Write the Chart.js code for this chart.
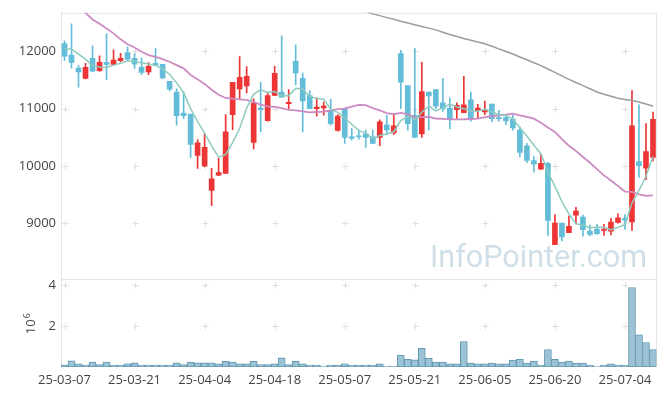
<!DOCTYPE html>
<html>
<head>
<meta charset="utf-8">
<script src="https://cdn.jsdelivr.net/npm/chart.js@4.4.1/dist/chart.umd.min.js"></script>
<style>
html,body{margin:0;padding:0;background:#fff;}
canvas{display:block;}
</style>
</head>
<body>
<canvas id="c" width="665" height="396"></canvas>
<script>
const dates = [
"25-03-07","25-03-10","25-03-11","25-03-12","25-03-13","25-03-14","25-03-17","25-03-18","25-03-19","25-03-20",
"25-03-21","25-03-24","25-03-25","25-03-26","25-03-27","25-03-28","25-03-31","25-04-01","25-04-02","25-04-03",
"25-04-04","25-04-07","25-04-08","25-04-09","25-04-10","25-04-11","25-04-14","25-04-15","25-04-16","25-04-17",
"25-04-18","25-04-21","25-04-22","25-04-23","25-04-24","25-04-25","25-04-28","25-04-29","25-04-30","25-05-02",
"25-05-07","25-05-08","25-05-09","25-05-12","25-05-13","25-05-14","25-05-15","25-05-16","25-05-19","25-05-20",
"25-05-21","25-05-22","25-05-23","25-05-26","25-05-27","25-05-28","25-05-29","25-05-30","25-06-02","25-06-04",
"25-06-05","25-06-09","25-06-10","25-06-11","25-06-12","25-06-13","25-06-16","25-06-17","25-06-18","25-06-19",
"25-06-20","25-06-23","25-06-24","25-06-25","25-06-26","25-06-27","25-06-30","25-07-01","25-07-02","25-07-03",
"25-07-04","25-07-07","25-07-08","25-07-09","25-07-10"];

const opens  = [12133,11931,11706,11528,11874,11661,11805,11770,11834,11978,11874,11718,11637,11787,11770,11476,11286,10923,10906,10186,
10002,9576,9840,9869,10894,11343,11395,10410,11010,10790,11229,11286,11084,11822,11528,11229,10998,11010,10970,10618,
10998,10509,10521,10561,10509,10497,10716,10578,11960,11402,10884,10561,11286,11333,11101,11010,10980,10929,11153,10963,
10941,11079,10842,10842,10815,10624,10353,10094,9944,10047,8630,9005,8838,9144,9109,8867,8902,8879,8867,9018,
9087,9028,10077,9961,10151];
const highs  = [12180,12479,11748,11787,12093,11921,12306,12024,11965,12076,11960,11886,11800,12047,11770,11476,11343,11298,10906,10462,
10555,9961,10134,10894,11459,11908,11730,11171,11459,11274,11736,12266,11333,12111,11620,11316,11188,11114,11160,10894,
11010,10652,10624,10624,10624,10803,10884,10884,12017,11402,12047,11805,11286,11333,11528,11188,11101,11563,11286,11074,
11131,11079,10970,10884,10884,10681,10393,10163,10203,10065,9156,9005,9126,9282,9144,8971,8983,8983,9087,9166,
9156,11316,11067,10739,10941];
const lows   = [11834,11706,11373,11516,11644,11649,11506,11758,11817,11827,11701,11592,11592,11748,11516,11309,10711,10825,10146,9956,
9985,9311,9830,9869,10635,11160,11274,10296,10600,10780,11229,11200,10998,11412,10595,10998,10872,10884,10711,10607,
10393,10452,10469,10324,10393,10353,10548,10548,10998,10624,10497,10497,10624,10998,10953,10652,10825,10929,10780,10837,
10894,10768,10780,10721,10624,10158,10059,9892,9944,8793,8630,8694,8838,8993,8776,8781,8810,8793,8798,9005,
8897,8879,9800,9760,10089];
const closes = [11914,11805,11637,11718,11654,11805,11770,11844,11874,11862,11775,11632,11736,11758,11533,11338,10877,10877,10376,10405,
10324,9778,9887,10595,11459,11546,11563,11096,10980,11229,11615,11200,11108,11620,11136,10998,11027,11044,10739,10872,
10497,10486,10509,10497,10393,10768,10630,10699,11459,10739,10497,11298,11222,11044,10998,10825,11056,11067,10825,11010,
10980,10825,10825,10785,10664,10237,10099,10030,10047,9052,9005,8763,8948,9213,8890,8810,8821,8902,9023,9097,
9057,10699,10008,10250,10815];
const volumes = [110000,300000,150000,100000,240000,120000,240000,100000,100000,150000,200000,100000,100000,100000,100000,100000,200000,120000,240000,200000,
200000,200000,150000,280000,240000,150000,150000,280000,120000,120000,150000,450000,120000,280000,150000,100000,100000,50000,100000,100000,
150000,100000,100000,100000,100000,150000,50000,50000,580000,380000,350000,910000,430000,240000,240000,150000,150000,1250000,190000,150000,
150000,190000,150000,150000,340000,380000,190000,290000,100000,860000,380000,240000,290000,190000,190000,100000,30000,100000,150000,100000,
100000,3900000,1580000,1200000,860000];
const ma5 = [12047,12035,11948,11862,11746,11724,11717,11758,11789,11831,11825,11797,11776,11753,11687,11599,11448,11277,11000,10775,
10572,10352,10154,10198,10409,10653,11010,11252,11329,11283,11297,11224,11226,11354,11336,11212,11178,11165,10989,10936,
10836,10728,10621,10572,10476,10531,10559,10597,10790,10859,10805,10938,11043,10960,11012,11077,11029,10998,10954,10957,
10988,10941,10893,10885,10816,10667,10522,10363,10215,9893,9647,9379,9163,8996,8964,8925,8936,8927,8889,8931,
8980,9356,9577,9822,10166];
const ma20 = [12980,12880,12778,12669,12553,12479,12397,12311,12207,12121,12064,11990,11931,11903,11862,11817,11758,11701,11585,11510,
11430,11329,11241,11185,11175,11162,11152,11115,11070,11038,11030,11009,10977,10970,10950,10933,10941,10949,10967,10991,
10999,11035,11066,11061,11008,10969,10922,10902,10926,10902,10846,10851,10857,10828,10821,10812,10814,10815,10819,10826,
10850,10867,10883,10897,10911,10884,10858,10824,10754,10669,10595,10468,10354,10263,10157,10057,9945,9837,9746,9651,
9555,9548,9508,9481,9488];
const ma60 = [null,null,null,null,null,null,null,null,null,null,null,null,null,null,null,null,null,null,null,null,
null,null,null,null,null,null,null,null,null,null,null,null,null,null,null,null,null,null,null,null,
null,null,12720,12690,12650,12620,12585,12555,12522,12493,12462,12432,12402,12372,12330,12290,12255,12220,12190,12160,
12130,12085,12040,11995,11950,11900,11850,11800,11748,11690,11630,11570,11510,11455,11400,11345,11290,11250,11215,11180,
11160,11140,11115,11080,11040];
const priceTicks = [9000,10000,11000,12000];
const volumeTicks = [2000000,4000000];
const labelEvery = 10;

const UP = '#ee3535', DOWN = '#63bdd8';
const candleColors = closes.map((c,i)=> c >= opens[i] ? UP : DOWN);
const FONT = "'Open Sans', 'Noto Sans', sans-serif";

const decor = {
  id: 'decor',
  beforeDatasetsDraw(chart) {
    const {ctx, chartArea: a, scales} = chart;
    const x = scales.x, y = scales.y, v = scales.v;
    ctx.save();
    ctx.font = "32px Roboto, 'Open Sans', sans-serif";
    ctx.fillStyle = '#cfdfe9';
    ctx.textAlign = 'left';
    ctx.textBaseline = 'alphabetic';
    ctx.fillText('InfoPointer.com', a.left + 369, y.bottom - 12, 217);
    ctx.strokeStyle = '#e4e4e4';
    ctx.lineWidth = 1;
    ctx.beginPath();
    ctx.moveTo(a.left, a.top + 0.5); ctx.lineTo(a.right, a.top + 0.5);
    ctx.moveTo(a.left, Math.round(y.bottom) + 0.5); ctx.lineTo(a.right, Math.round(y.bottom) + 0.5);
    ctx.moveTo(Math.round(a.right) - 0.5, a.top); ctx.lineTo(Math.round(a.right) - 0.5, a.bottom);
    ctx.stroke();
    ctx.strokeStyle = '#dedede';
    const xs = [];
    for (let i = 0; i < dates.length; i += labelEvery) xs.push(Math.round(x.getPixelForValue(i)) + 0.5);
    const ys = priceTicks.map(t => Math.round(y.getPixelForValue(t)) + 0.5)
      .concat(volumeTicks.map(t => Math.round(v.getPixelForValue(t)) + 0.5));
    ctx.beginPath();
    xs.forEach(px => ys.forEach(py => {
      ctx.moveTo(px - 3, py); ctx.lineTo(px + 3, py);
      ctx.moveTo(px, py - 3); ctx.lineTo(px, py + 3);
    }));
    ctx.stroke();
    ctx.restore();
  },
  afterDraw(chart) {
    const {ctx, scales} = chart;
    const v = scales.v;
    const cy = (v.top + v.bottom) / 2 + 4;
    const cx = v.left + 35;
    ctx.save();
    ctx.fillStyle = '#444';
    ctx.translate(cx, cy);
    ctx.rotate(-Math.PI / 2);
    ctx.textBaseline = 'alphabetic';
    ctx.textAlign = 'center';
    ctx.font = '13px ' + FONT;
    ctx.fillText('10', 0, 0);
    ctx.textAlign = 'left';
    ctx.font = '9px ' + FONT;
    ctx.fillText('6', 8.5, -5);
    ctx.restore();
  }
};

new Chart(document.getElementById('c'), {
  data: {
    labels: dates,
    datasets: [
      {type:'line', data: ma5, yAxisID:'y', borderColor:'#8ecbbf', borderWidth:1.5, pointRadius:0, tension:0, order:1},
      {type:'line', data: ma20, yAxisID:'y', borderColor:'#cc8cc2', borderWidth:1.8, pointRadius:0, tension:0, order:1},
      {type:'line', data: ma60, yAxisID:'y', borderColor:'#9c9c9c', borderWidth:1.5, pointRadius:0, tension:0, order:1, spanGaps:false},
      {type:'bar', data: lows.map((l,i)=>[l, highs[i]]), yAxisID:'y', backgroundColor: candleColors, barThickness:1, grouped:false, order:3},
      {type:'bar', data: opens.map((o,i)=>[o, closes[i]]), yAxisID:'y', backgroundColor: candleColors, barThickness:5, minBarLength:1, grouped:false, order:2},
      {type:'bar', data: volumes, yAxisID:'v', backgroundColor:'#9cc3d5', borderColor:'#6197b1', borderWidth:1, borderSkipped:false, categoryPercentage:1, barPercentage:1, grouped:false, order:4}
    ]
  },
  options: {
    responsive: false,
    devicePixelRatio: 1,
    animation: false,
    layout: {padding: {top: 10, right: 8.5, left: 0, bottom: 0}},
    plugins: {legend: {display: false}, tooltip: {enabled: false}},
    scales: {
      x: {
        type: 'category',
        offset: true,
        grid: {display: false, drawTicks: false},
        border: {display: false},
        ticks: {
          autoSkip: false, maxRotation: 0, minRotation: 0, padding: 5,
          color: '#444', font: {family: FONT, size: 13},
          callback: (val, idx) => idx % labelEvery === 0 ? dates[idx] : null
        },
        afterFit: s => { s.height = 29; }
      },
      v: {
        type: 'linear', position: 'left', stack: 'panels', stackWeight: 89,
        min: 0, max: 4330000,
        grid: {display: false, drawTicks: false},
        border: {display: true, color: '#e2e2e2'},
        ticks: {padding: 5, color: '#444', font: {family: FONT, size: 13}, callback: val => String(val / 1000000)},
        afterBuildTicks: s => { s.ticks = volumeTicks.map(t => ({value: t})); },
        afterFit: s => { s.width = 61; }
      },
      y: {
        type: 'linear', position: 'left', stack: 'panels', stackWeight: 268,
        min: 8037, max: 12669,
        grid: {display: false, drawTicks: false},
        border: {display: true, color: '#e2e2e2'},
        ticks: {padding: 5, color: '#444', font: {family: FONT, size: 13}, callback: val => String(val)},
        afterBuildTicks: s => { s.ticks = priceTicks.map(t => ({value: t})); },
        afterFit: s => { s.width = 61; }
      }
    }
  },
  plugins: [decor]
});
</script>
</body>
</html>
